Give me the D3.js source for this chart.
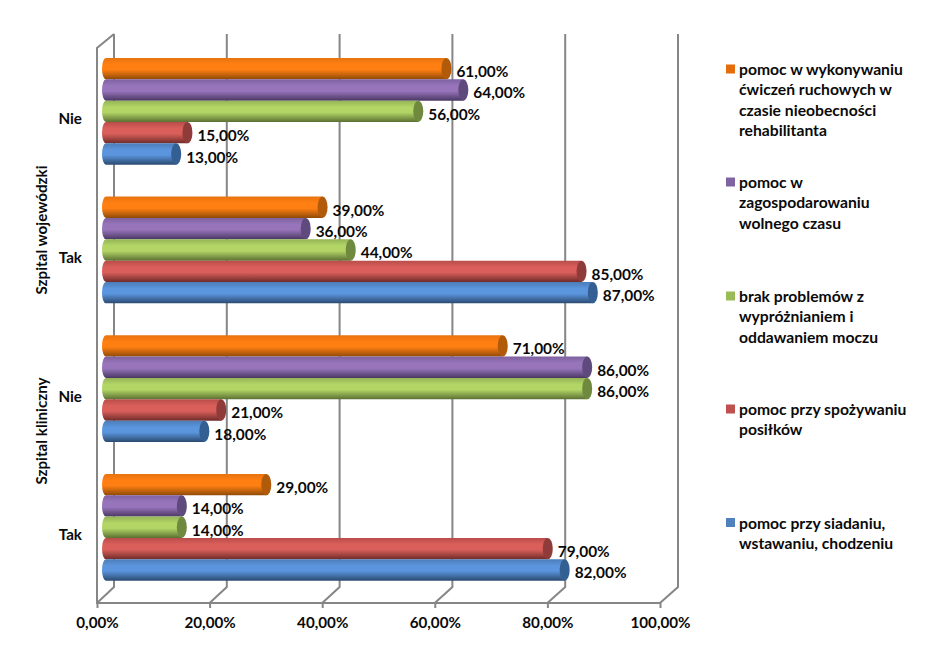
<!DOCTYPE html>
<html><head><meta charset="utf-8">
<script src="https://cdn.jsdelivr.net/npm/d3@7"></script>
<style>html,body{margin:0;padding:0;background:#fff}svg{display:block}text{font-family:Lato,"Open Sans",sans-serif;font-weight:700;fill:#0a0a0a}</style>
</head><body><svg id="c" width="930" height="662"></svg>
<script>
const rows = ["sw-nie","sw-tak","sk-nie","sk-tak"];
const rowLabels = ["Nie","Tak","Nie","Tak"];
const groupLabels = ["Szpital wojewódzki","Szpital kliniczny"];
const seriesKeys = ["orange","purple","green","red","blue"];
const wykonywanie = [61,39,71,29];
const zagospodarowanie = [64,36,86,14];
const wyproznianie = [56,44,86,14];
const spozywanie = [15,85,21,79];
const siadanie = [13,87,18,82];
const seriesValues = [wykonywanie,zagospodarowanie,wyproznianie,spozywanie,siadanie];
const tickValues = [0,20,40,60,80,100];
const legendLines = [
 ["pomoc w wykonywaniu","ćwiczeń ruchowych w","czasie nieobecności","rehabilitanta"],
 ["pomoc w","zagospodarowaniu","wolnego czasu"],
 ["brak problemów z","wypróżnianiem i","oddawaniem moczu"],
 ["pomoc przy spożywaniu","posiłków"],
 ["pomoc przy siadaniu,","wstawaniu, chodzeniu"]];
const palette = {
 orange:{key:"#e46c0a",top:"#e8730f",mid:"#ff7f12",bot:"#8f4a08",cap:"#b05a0a"},
 purple:{key:"#8064a2",top:"#7d62a0",mid:"#9875bb",bot:"#4a3763",cap:"#5f4a7d"},
 green:{key:"#9bbb59",top:"#94b455",mid:"#b2d566",bot:"#5b7033",cap:"#6f8a3f"},
 red:{key:"#c0504d",top:"#b84c49",mid:"#da5f5b",bot:"#6f2c2a",cap:"#8f3b39"},
 blue:{key:"#4f81bd",top:"#4c7db7",mid:"#5a95dd",bot:"#2b4a70",cap:"#345f92"}
};
const fmt = v => d3.format(".2f")(v).replace(".",",")+"%";
const svg = d3.select("#c");
const defs = svg.append("defs");
seriesKeys.forEach(k=>{
  const p=palette[k];
  const g=defs.append("linearGradient").attr("id","g-"+k).attr("x1",0).attr("y1",0).attr("x2",0).attr("y2",1);
  [[0,p.top],[.3,p.mid],[.55,p.mid],[1,p.bot]].forEach(s=>g.append("stop").attr("offset",s[0]).attr("stop-color",s[1]));
});
const x0=97,x1=660,depthX=17,backTop=34,backBot=587,frontBot=603,frontTop=48;
const xFront=d3.scaleLinear().domain([0,100]).range([x0,x1]);
const xBack=d3.scaleLinear().domain([0,100]).range([x0+depthX,x1+depthX+1]);
const xBar=d3.scaleLinear().domain([0,100]).range([x0+5,x1+5]);
const yRow=d3.scaleBand().domain(rows).range([42,596.6]).paddingInner(.2304).paddingOuter(.1152);
const ySer=d3.scaleBand().domain(seriesKeys).range([0,yRow.bandwidth()]);
const wall="#868686";
const gl=svg.append("g").attr("fill","none").attr("stroke",wall).attr("stroke-width",2);
gl.append("path").attr("d",`M${x0},${frontBot}V${frontTop}L${xBack(0)},${backTop}`);
tickValues.forEach(t=>{
  gl.append("path").attr("d",`M${xBack(t)},${backTop}V${backBot}L${xFront(t)},${frontBot}`);
});
const axis=d3.axisBottom(xFront).tickValues(tickValues).tickFormat(fmt).tickSize(5).tickPadding(9);
const ax=svg.append("g").attr("transform",`translate(0,${frontBot})`).call(axis);
ax.select(".domain").attr("stroke",wall).attr("stroke-width",2).attr("d",`M${x0-1},0H${x1+1}`);
ax.selectAll(".tick line").attr("stroke",wall).attr("stroke-width",2);
ax.selectAll("text").attr("font-size",15.2).attr("fill","#0a0a0a").style("font-family","Lato").style("font-weight",700);
const capRx=5;
seriesKeys.forEach((k,si)=>{
  const g=svg.append("g");
  rows.forEach((r,ri)=>{
    const v=seriesValues[si][ri];
    const y=yRow(r)+ySer(k),h=ySer.bandwidth(),xa=xBar(0)+capRx-1,xb=xBar(v)+1;
    g.append("path").attr("fill",`url(#g-${k})`)
     .attr("d",`M${xa},${y}H${xb}V${y+h}H${xa}A${capRx-1},${h/2} 0 0 1 ${xa},${y}Z`);
    g.append("ellipse").attr("cx",xb).attr("cy",y+h/2).attr("rx",capRx).attr("ry",h/2).attr("fill",palette[k].cap);
  });
});
seriesKeys.forEach((k,si)=>{
  rows.forEach((r,ri)=>{
    const v=seriesValues[si][ri];
    svg.append("text").attr("x",xBar(v)+11).attr("y",yRow(r)+ySer(k)+ySer.bandwidth()/2+2.5)
      .attr("dominant-baseline","central").attr("font-size",15.4).text(fmt(v));
  });
});
rows.forEach((r,ri)=>{
  svg.append("text").attr("x",82).attr("y",yRow(r)+yRow.bandwidth()/2+7).attr("text-anchor","end")
    .attr("dominant-baseline","central").attr("font-size",15.2).text(rowLabels[ri]);
});
const groupCenters=[230,431];
groupLabels.forEach((t,i)=>{
  svg.append("text").attr("transform",`translate(41,${groupCenters[i]}) rotate(-90)`).attr("text-anchor","middle")
    .attr("dominant-baseline","central").attr("font-size",15.2).text(t);
});
const legendTop=[69,182,296,409,522.5];
legendLines.forEach((lines,i)=>{
  const k=seriesKeys[i];
  svg.append("rect").attr("x",726).attr("y",legendTop[i]-4.5).attr("width",9).attr("height",9).attr("fill",palette[k].key);
  lines.forEach((l,j)=>{
    svg.append("text").attr("x",739).attr("y",legendTop[i]+j*20.4).attr("dominant-baseline","central").attr("font-size",15.7).text(l);
  });
});
</script></body></html>
